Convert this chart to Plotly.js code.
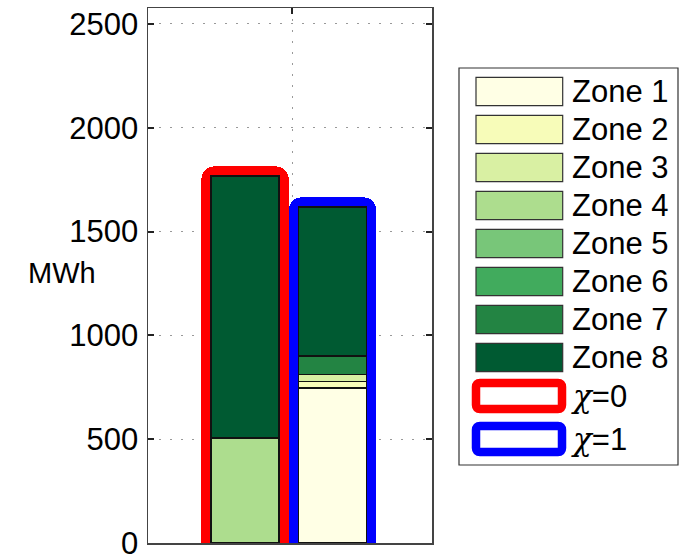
<!DOCTYPE html>
<html>
<head>
<meta charset="utf-8">
<script src="https://cdn.plot.ly/plotly-3.0.1.min.js"></script>
<style>html,body{margin:0;padding:0;background:#fff;}#chart{width:687px;height:554px;}</style>
</head>
<body>
<div id="chart"></div>
<script>
// ---- data ----
const zoneNames = ['Zone 1','Zone 2','Zone 3','Zone 4','Zone 5','Zone 6','Zone 7','Zone 8'];
const scenarios = ['χ=0','χ=1'];
const chi0Values = [0, 0, 0, 506, 0, 0, 0, 1262];
const chi1Values = [747, 32, 33, 0, 0, 0, 89, 718];
const yTickVals = [0, 500, 1000, 1500, 2000, 2500];
const yTickText = ['0', '500', '1000', '1500', '2000', '2500'];

// ---- style ----
const zoneColors = ['#ffffe5','#f7fcb9','#d9f0a3','#addd8e','#78c679','#41ab5d','#238443','#005a32'];
const outlineColors = ['#ff0000','#0000ff'];
const FONT = 'Liberation Sans, Arial, Helvetica, sans-serif';
const FS = 31;
const W = 687, H = 554;
const L = 148, R = 432, T = 8, B = 543;
const xRange = [-1.109, 2.137];
const yRange = [0, 2577];
const barW = 0.78;

const xIdx = scenarios.map((s, i) => i);
const seriesByScenario = [chi0Values, chi1Values];
const totals = seriesByScenario.map(a => a.reduce((s, v) => s + v, 0));

const traces = [];
// outlines (behind, main subplot)
scenarios.forEach((s, i) => {
  traces.push({
    type: 'bar', name: s, x: [xIdx[i]], y: [totals[i]], width: barW,
    xaxis: 'x', yaxis: 'y', showlegend: false, hoverinfo: 'skip',
    marker: { color: 'rgba(0,0,0,0)', cornerradius: 3, line: { color: outlineColors[i], width: 19 } }
  });
});
// zones (stacked, overlay subplot on top)
zoneNames.forEach((z, k) => {
  traces.push({
    type: 'bar', name: z, x: xIdx, y: seriesByScenario.map(a => a[k]), width: barW,
    xaxis: 'x2', yaxis: 'y', showlegend: false,
    marker: { color: zoneColors[k], line: { color: '#111', width: 1.5 } }
  });
});

// custom legend (large swatches as in the reference)
const X = px => (px - L) / (R - L);
const Y = py => (B - py) / (B - T);
const shapes = [];
const annotations = [];
shapes.push({ type: 'rect', xref: 'paper', yref: 'paper', x0: X(459), x1: X(678), y0: Y(465), y1: Y(68),
  line: { color: '#333', width: 1.2 }, fillcolor: '#fff', layer: 'below' });
zoneNames.forEach((z, k) => {
  const top = 77.3 + 38 * k;
  shapes.push({ type: 'rect', xref: 'paper', yref: 'paper', x0: X(476), x1: X(562.7), y0: Y(top + 28.4), y1: Y(top),
    line: { color: '#333', width: 1.2 }, fillcolor: zoneColors[k] });
  annotations.push({ xref: 'paper', yref: 'paper', x: X(570), y: Y(top + 14.2), xanchor: 'left', yanchor: 'middle',
    text: z, showarrow: false, font: { family: FONT, size: FS, color: '#000' } });
});
function roundRect(x0, y0, x1, y1, r) {
  const p = (x, y) => X(x) + ',' + Y(y);
  return 'M' + p(x0 + r, y0) + ' L' + p(x1 - r, y0) + ' Q' + p(x1, y0) + ' ' + p(x1, y0 + r) +
    ' L' + p(x1, y1 - r) + ' Q' + p(x1, y1) + ' ' + p(x1 - r, y1) +
    ' L' + p(x0 + r, y1) + ' Q' + p(x0, y1) + ' ' + p(x0, y1 - r) +
    ' L' + p(x0, y0 + r) + ' Q' + p(x0, y0) + ' ' + p(x0 + r, y0) + ' Z';
}
const chiLabel = s => s.replace('χ', '<span style="font-family:DejaVu Serif, serif;font-style:italic">χ</span>');
const chiCenters = [396, 439];
scenarios.forEach((s, i) => {
  const c = chiCenters[i];
  shapes.push({ type: 'path', xref: 'paper', yref: 'paper', path: roundRect(476, c - 13, 562, c + 13, 4),
    line: { color: outlineColors[i], width: 8.5 }, fillcolor: '#fff' });
  annotations.push({ xref: 'paper', yref: 'paper', x: X(569), y: Y(c), xanchor: 'left', yanchor: 'middle',
    text: chiLabel(s), showarrow: false, font: { family: FONT, size: FS, color: '#000' } });
});
// y-axis title (horizontal, as in reference)
annotations.push({ xref: 'paper', yref: 'paper', x: X(62), y: Y(273), xanchor: 'center', yanchor: 'middle',
  text: 'MWh', showarrow: false, font: { family: FONT, size: 29, color: '#000' } });

const gridStyle = { gridcolor: '#999', gridwidth: 1, griddash: '1.5px,9.5px' };
const layout = {
  width: W, height: H,
  margin: { l: L, r: W - R, t: T, b: H - B, pad: 0 },
  paper_bgcolor: '#fff', plot_bgcolor: '#fff',
  barmode: 'stack', showlegend: false,
  font: { family: FONT, size: FS, color: '#000' },
  xaxis: Object.assign({
    range: xRange, showline: true, mirror: true, linecolor: '#444', linewidth: 1.5,
    ticks: '', tickvals: [0.54], showticklabels: false, showgrid: true, zeroline: false, fixedrange: true
  }, gridStyle),
  xaxis2: {
    overlaying: 'x', side: 'top', range: xRange, showline: false, ticks: 'inside', ticklen: 6, tickwidth: 2,
    tickcolor: '#222', tickvals: [0.54], showticklabels: false, showgrid: false, zeroline: false, fixedrange: true
  },
  yaxis: Object.assign({
    range: yRange, showline: true, mirror: 'ticks', linecolor: '#444', linewidth: 1.5,
    ticks: 'inside', ticklen: 6, tickwidth: 2, tickcolor: '#222',
    tickvals: yTickVals, ticktext: yTickText, tickfont: { family: FONT, size: FS, color: '#000' },
    ticklabeloverflow: 'allow', ticklabelstandoff: 2,
    showgrid: true, zeroline: false, fixedrange: true
  }, gridStyle),
  shapes: shapes,
  annotations: annotations
};

Plotly.newPlot('chart', traces, layout, { staticPlot: true, displayModeBar: false });
</script>
</body>
</html>
